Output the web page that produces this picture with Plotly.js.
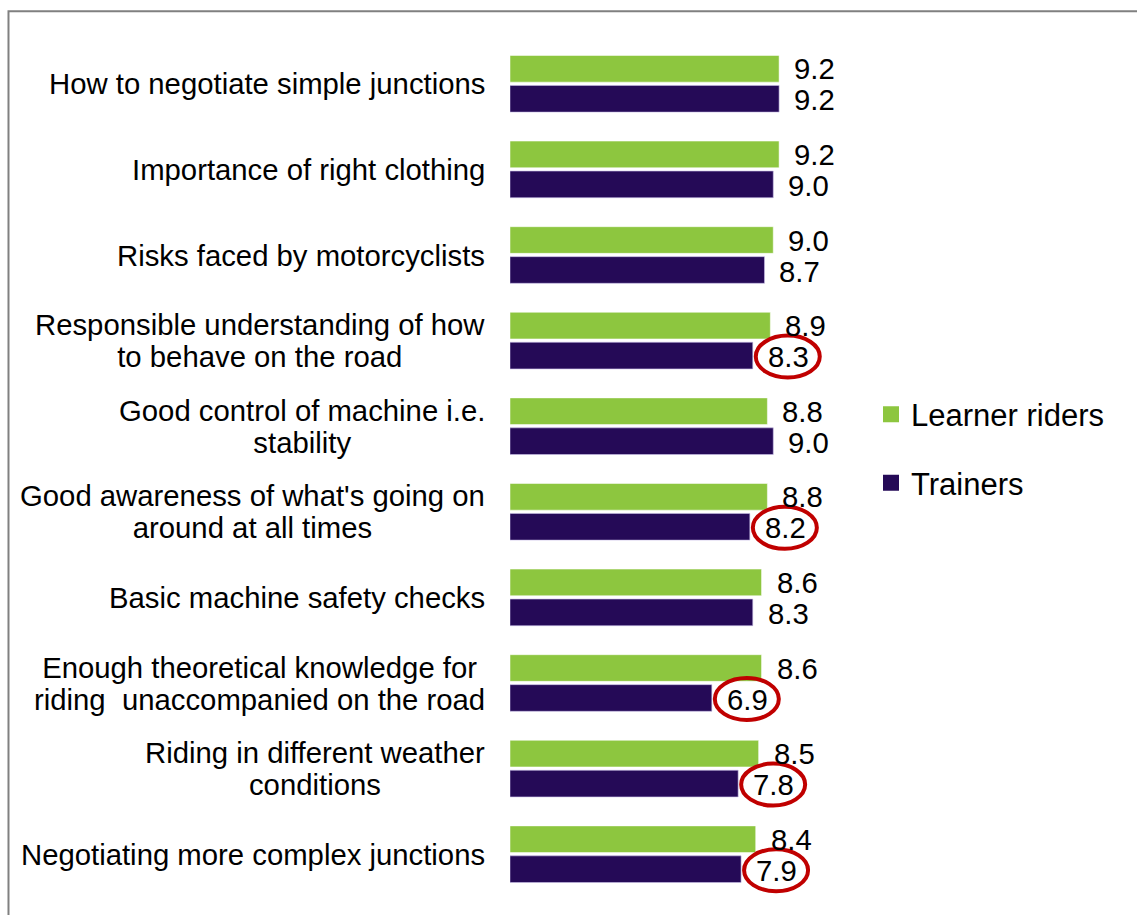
<!DOCTYPE html>
<html><head><meta charset="utf-8">
<script src="https://cdn.plot.ly/plotly-3.0.1.min.js"></script>
<style>html,body{margin:0;padding:0;background:#fff;} #chart{width:1137px;height:915px;}</style>
</head><body><div id="chart"></div>
<script>
const categories = [
  "How to negotiate simple junctions",
  "Importance of right clothing",
  "Risks faced by motorcyclists",
  "Responsible understanding of how<br>to behave on the road",
  "Good control of machine i.e.<br>stability",
  "Good awareness of what's going on<br>around at all times",
  "Basic machine safety checks",
  "Enough theoretical knowledge for<br>riding\u00a0 unaccompanied on the road",
  "Riding in different weather<br>conditions",
  "Negotiating more complex junctions"
];
const learnerRiders = [9.2, 9.2, 9.0, 8.9, 8.8, 8.8, 8.6, 8.6, 8.5, 8.4];
const trainers      = [9.2, 9.0, 8.7, 8.3, 9.0, 8.2, 8.3, 6.9, 7.8, 7.9];
const highlightedTrainers = [false, false, false, true, false, true, false, true, true, true];
const seriesNames = ["Learner riders", "Trainers"];

const FONT = "Liberation Sans, Arial, sans-serif";
const GREEN = "#8DC63F", PURPLE = "#250A57", RED = "#C00000";

const traces = [
  {type:'bar', orientation:'h', name:seriesNames[0], y:categories, x:learnerRiders, showlegend:false,
   legendgroup:'g1', marker:{color:GREEN, line:{color:'rgba(255,255,255,0.5)', width:1}}, hoverinfo:'x+name'},
  {type:'bar', orientation:'h', name:seriesNames[1], y:categories, x:trainers, showlegend:false,
   legendgroup:'g2', marker:{color:PURPLE, line:{color:'rgba(200,190,230,0.6)', width:1}}, hoverinfo:'x+name'},
  // legend keys (larger square swatches, as in the original)
  {type:'scatter', mode:'markers', name:seriesNames[0], x:[null], y:[null], legendgroup:'g1', showlegend:true,
   marker:{symbol:'square', size:16, color:GREEN}, hoverinfo:'skip'},
  {type:'scatter', mode:'markers', name:seriesNames[1], x:[null], y:[null], legendgroup:'g2', showlegend:true,
   marker:{symbol:'square', size:16, color:PURPLE}, hoverinfo:'skip'}
];

const annotations = [];
const shapes = [];
categories.forEach((c, i) => {
  const wrapped = c.split('<br>').map(s => '<span style="font-size:29.3px">' + s + '</span>').join('<br>');
  annotations.push({xref:'paper', yref:'y', x:0, y:i, xanchor:'right', yanchor:'middle', xshift:-23,
    align:'center', text:wrapped, showarrow:false, font:{family:FONT, size:24.6, color:'#000'}});
  annotations.push({xref:'x', yref:'y', x:learnerRiders[i], y:i, xanchor:'left', yanchor:'middle',
    xshift:13, yshift:15, text:learnerRiders[i].toFixed(1), showarrow:false,
    font:{family:FONT, size:29.3, color:'#000'}});
  annotations.push({xref:'x', yref:'y', x:trainers[i], y:i, xanchor:'left', yanchor:'middle',
    xshift:13, yshift:-16, text:trainers[i].toFixed(1), showarrow:false,
    font:{family:FONT, size:29.3, color:'#000'}});
  if (highlightedTrainers[i]) {
    shapes.push({type:'circle', xref:'x', yref:'y', xsizemode:'pixel', ysizemode:'pixel',
      xanchor:trainers[i], yanchor:i, x0:3, x1:67, y0:-37, y1:5,
      line:{color:RED, width:4}, fillcolor:'rgba(0,0,0,0)', layer:'above'});
  }
});
shapes.push({type:'rect', xref:'paper', yref:'paper', x0:-1.4288, x1:3, y0:-0.3, y1:1.0347,
  line:{color:'#808080', width:2}, fillcolor:'rgba(0,0,0,0)', layer:'below'});

const layout = {
  width:1137, height:915,
  margin:{l:510, r:276, t:41, b:18, pad:0},
  paper_bgcolor:'#fff', plot_bgcolor:'rgba(0,0,0,0)',
  barmode:'group', bargap:0.30, bargroupgap:0.11,
  font:{family:FONT, color:'#000'},
  xaxis:{range:[0,12], showgrid:false, zeroline:false, showticklabels:false, ticks:'', showline:false, fixedrange:true},
  yaxis:{type:'category', categoryorder:'array', categoryarray:categories, range:[9.5,-0.5],
    showgrid:false, zeroline:false, showticklabels:false, ticks:'', showline:false, fixedrange:true},
  showlegend:true,
  legend:{x:1.0285, xanchor:'left', y:0.595, yanchor:'top', font:{family:FONT, size:31, color:'#000'},
    tracegroupgap:25, traceorder:'grouped', bgcolor:'rgba(0,0,0,0)', itemwidth:30},
  annotations:annotations, shapes:shapes
};

Plotly.newPlot('chart', traces, layout, {displayModeBar:false, staticPlot:true});
</script>
</body></html>
